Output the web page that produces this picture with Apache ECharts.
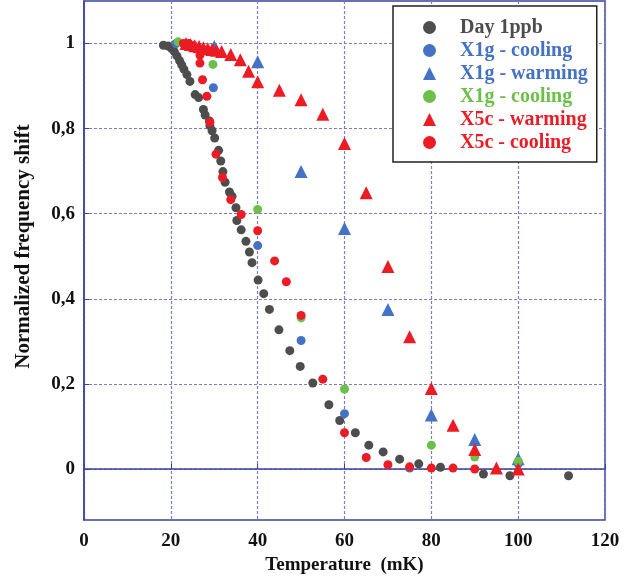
<!DOCTYPE html>
<html>
<head>
<meta charset="utf-8">
<script src="https://cdn.jsdelivr.net/npm/echarts@6/dist/echarts.min.js"></script>
<style>
  html, body { margin: 0; padding: 0; background: #fff; }
  #chart { width: 641px; height: 580px; }
</style>
</head>
<body>
<div id="chart"></div>
<script>
// data: [temperature mK, normalized shift]
var day1ppb = [
  [18.3, 0.996], [19.4, 0.994], [20.2, 0.988], [20.8, 0.981], [21.4, 0.971],
  [22.0, 0.960], [22.5, 0.950], [23.0, 0.940], [23.7, 0.927], [24.4, 0.911],
  [25.6, 0.880], [26.4, 0.873], [27.5, 0.845], [27.9, 0.832], [28.9, 0.818],
  [29.0, 0.807], [29.5, 0.795], [30.1, 0.778], [31.0, 0.749], [31.5, 0.724],
  [32.0, 0.699], [32.5, 0.674], [33.5, 0.651], [34.1, 0.641], [35.0, 0.614],
  [35.2, 0.584], [36.2, 0.562], [37.3, 0.535], [38.1, 0.510], [38.7, 0.485],
  [40.1, 0.444], [41.4, 0.412], [42.7, 0.375], [44.9, 0.327], [47.4, 0.278],
  [49.8, 0.241], [52.7, 0.202], [56.4, 0.151], [58.9, 0.114], [62.5, 0.085],
  [65.6, 0.056], [68.9, 0.040], [72.7, 0.023], [77.1, 0.012], [82.1, 0.004],
  [92.0, -0.012], [98.1, -0.016], [111.6, -0.016]
];
var x1gCoolBlue = [
  [21.2, 1.0], [29.8, 0.896], [40, 0.525], [50, 0.302], [60, 0.130],
  [75, 0.002], [100, 0.012]
];
var x1gWarm = [
  [30, 0.993], [40, 0.957], [50, 0.699], [60, 0.565], [70, 0.375],
  [80, 0.127], [90, 0.069], [100, 0.024]
];
var x1gCoolGreen = [
  [21.7, 1.004], [29.7, 0.951], [40, 0.610], [50, 0.355], [60, 0.188],
  [80, 0.056], [90, 0.028], [100, 0.018]
];
var x5cWarm = [
  [23.5, 1.0], [24.5, 0.998], [25.5, 0.995], [26.5, 0.993], [27.5, 0.990],
  [28.5, 0.988], [29.5, 0.986], [30.5, 0.984], [31.7, 0.981], [33.8, 0.974],
  [36, 0.962], [37.9, 0.935], [40, 0.910], [45, 0.890], [50, 0.868],
  [55, 0.834], [60, 0.765], [65, 0.649], [70, 0.476], [75, 0.311],
  [80, 0.189], [85, 0.103], [90, 0.046], [95, 0.002], [100, 0.0]
];
var x5cCool = [
  [22.9, 1.0], [24.1, 1.0], [25.2, 0.995], [26.0, 0.988], [26.7, 0.973],
  [26.7, 0.954], [27.3, 0.915], [28.3, 0.876], [29.0, 0.815], [30.4, 0.740],
  [31.9, 0.685], [33.8, 0.633], [36.2, 0.598], [40, 0.560], [43.9, 0.489],
  [46.6, 0.440], [50, 0.361], [55, 0.211], [60, 0.085], [65, 0.027],
  [70, 0.010], [75, 0.005], [80, 0.002], [85, 0.002], [90, 0.0]
];
var yTicks = [0, 0.2, 0.4, 0.6, 0.8, 1];

var GRAY = '#4d4d4d', BLUE = '#4472c4', GREEN = '#6cc04a', RED = '#ec1c24';
var FONT = '"Liberation Serif", "Times New Roman", serif';

var chart = echarts.init(document.getElementById('chart'));

function sc(name, data, color, symbol, size) {
  return {
    name: name,
    type: 'scatter',
    data: data,
    symbol: symbol,
    symbolSize: size,
    itemStyle: { color: color, opacity: 1 },
    emphasis: { disabled: true }
  };
}

var option = {
  animation: false,
  backgroundColor: '#fff',
  grid: {
    left: 84, right: 36, top: 1, bottom: 53,
    show: true,
    borderColor: '#3a42a0',
    borderWidth: 1.5
  },
  legend: {
    orient: 'vertical',
    left: 393, top: 6,
    padding: [10, 9, 8, 30],
    backgroundColor: '#fff',
    borderColor: '#222',
    borderWidth: 1.5,
    itemWidth: 13, itemHeight: 13,
    itemGap: 0,
    textStyle: { fontFamily: FONT, fontWeight: 'bold', fontSize: 20, lineHeight: 23, padding: [0, 0, 0, 19] },
    data: [
      { name: 'Day 1ppb', icon: 'circle', textStyle: { color: GRAY } },
      { name: 'X1g - cooling', icon: 'circle', textStyle: { color: BLUE } },
      { name: 'X1g - warming', icon: 'triangle', textStyle: { color: BLUE } },
      { name: 'X1g - cooling ', icon: 'circle', textStyle: { color: GREEN } },
      { name: 'X5c - warming', icon: 'triangle', textStyle: { color: RED } },
      { name: 'X5c - cooling', icon: 'circle', textStyle: { color: RED } }
    ]
  },
  xAxis: {
    type: 'value',
    min: 0, max: 120, interval: 20,
    name: 'Temperature  (mK)',
    nameLocation: 'middle',
    nameGap: 36,
    nameTextStyle: { fontFamily: FONT, fontWeight: 'bold', fontSize: 19, color: '#111' },
    axisLine: { show: true, lineStyle: { color: '#3a42a0', width: 1.5 } },
    axisTick: { show: true, inside: true, length: 5, lineStyle: { color: '#3a42a0' } },
    axisLabel: { margin: 12, fontFamily: FONT, fontWeight: 'bold', fontSize: 19, color: '#111' },
    splitLine: { show: true, lineStyle: { color: '#7d7dbf', type: [3, 2], width: 1.2 } }
  },
  yAxis: {
    type: 'value',
    min: -0.12, max: 1.1,
    name: 'Normalized frequency shift',
    nameLocation: 'middle',
    nameGap: 50,
    nameTextStyle: { fontFamily: FONT, fontWeight: 'bold', fontSize: 21, color: '#111', padding: [0, 0, 0, 28] },
    axisLine: { show: true, lineStyle: { color: '#3a42a0', width: 1.5 } },
    axisTick: { show: true, inside: true, length: 5, customValues: yTicks, lineStyle: { color: '#3a42a0' } },
    axisLabel: {
      customValues: yTicks,
      margin: 9,
      fontFamily: FONT, fontWeight: 'bold', fontSize: 19, color: '#111',
      formatter: function (v) { return String(Math.round(v * 10) / 10).replace('.', ','); }
    },
    splitLine: { show: true, lineStyle: { color: '#7d7dbf', type: [3, 2], width: 1.2 } }
  },
  series: [
    sc('Day 1ppb', day1ppb, GRAY, 'circle', 9),
    sc('X1g - cooling', x1gCoolBlue, BLUE, 'circle', 9),
    sc('X1g - warming', x1gWarm, BLUE, 'triangle', 13),
    sc('X1g - cooling ', x1gCoolGreen, GREEN, 'circle', 9),
    sc('X5c - warming', x5cWarm, RED, 'triangle', 13),
    sc('X5c - cooling', x5cCool, RED, 'circle', 9)
  ]
};

chart.setOption(option);
</script>
</body>
</html>
